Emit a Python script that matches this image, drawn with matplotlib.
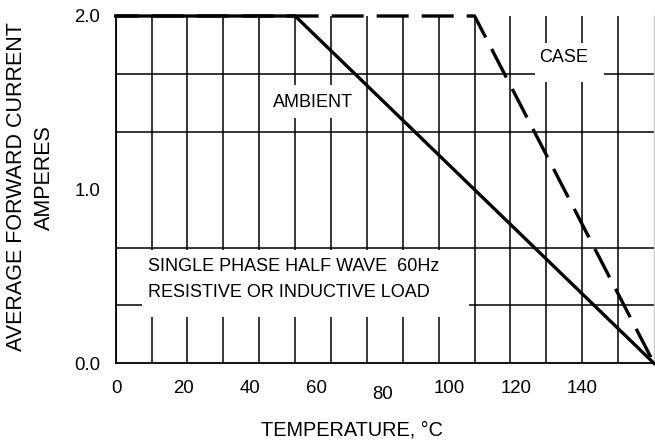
import matplotlib
matplotlib.use('Agg')
import matplotlib.pyplot as plt
import numpy as np
from matplotlib.patches import Rectangle

plt.rcParams['font.family'] = ['Liberation Sans', 'DejaVu Sans']

# ---- data ----
ambient_temp = [0, 50, 150]
ambient_current = [2.0, 2.0, 0.0]
case_temp = [0, 100, 150]
case_current = [2.0, 2.0, 0.0]
x_tick_values = [0, 20, 40, 60, 80, 100, 120, 140]
x_tick_labels = ['0', '20', '40', '60', '80', '100', '120', '140']
y_tick_values = [0.0, 1.0, 2.0]
y_tick_labels = ['0.0', '1.0', '2.0']

W, H = 655, 446
fig = plt.figure(figsize=(W / 100, H / 100), dpi=100)
ax = fig.add_axes([115.7 / W, 82.7 / H, (654 - 115.7) / W, (363.3 - 16) / H])
ax.set_xlim(0, 150)
ax.set_ylim(0, 2)

# grid via minor ticks
ax.set_xticks(np.arange(0, 141, 10), minor=True)
ax.set_yticks(np.arange(0, 7) / 3, minor=True)
ax.grid(which='minor', color='black', lw=1.1, zorder=0.5)
ax.grid(which='major', visible=False)
ax.set_axisbelow(True)

ax.set_xticks([])
ax.set_yticks(y_tick_values)
ax.set_yticklabels(y_tick_labels, fontsize=13.4)
ax.tick_params(which='both', length=0)
ax.tick_params(axis='y', pad=11.3)

for s in ['left', 'bottom']:
    ax.spines[s].set_color('black')
    ax.spines[s].set_linewidth(1.3)
ax.spines['top'].set_visible(False)
ax.spines['right'].set_color('#c8c8c8')
ax.spines['right'].set_linewidth(1.0)

# x tick labels (slightly compressed placement like the reference)
for v, lab in zip(x_tick_values, x_tick_labels):
    off = 22.8 if lab == '80' else 17.8
    ax.annotate(lab, xy=(0.3 + v * 0.927, 0), xycoords=('data', 'axes fraction'),
                xytext=(0, -off), textcoords='offset points',
                ha='center', va='center', fontsize=13.4)

# white label boxes covering the grid
def wbox(x0, x1, y0, y1):
    ax.add_patch(Rectangle((x0, y0), x1 - x0, y1 - y0, facecolor='white',
                           edgecolor='none', zorder=1))

wbox(42.3, 67.9, 1.41, 1.60)
wbox(116.8, 136.2, 1.62, 1.845)
wbox(7.3, 98.4, 0.267, 0.653)

# curves
ax.plot(case_temp, case_current, color='black', lw=2.4,
        linestyle=(2.7, (9.6, 3.9)), zorder=3, clip_on=False,
        solid_capstyle='butt', dash_capstyle='butt')
ax.plot(ambient_temp, ambient_current, color='black', lw=2.4, zorder=4,
        clip_on=False, solid_joinstyle='miter')

# annotations
ax.text(55, 1.50, 'AMBIENT', ha='center', va='center', fontsize=13, zorder=5)
ax.text(124.9, 1.76, 'CASE', ha='center', va='center', fontsize=13, zorder=5)
ax.text(9.0, 0.555, 'SINGLE PHASE HALF WAVE  60Hz', ha='left', va='center',
        fontsize=13, zorder=5)
ax.text(9.0, 0.405, 'RESISTIVE OR INDUCTIVE LOAD', ha='left', va='center',
        fontsize=13, zorder=5)

# axis titles
fig.text(351.7 / W, 15.5 / H, 'TEMPERATURE, °C', ha='center', va='center',
         fontsize=14.3)
fig.text(16.7 / W, (H - 186.7) / H, 'AVERAGE FORWARD CURRENT', rotation=90,
         ha='center', va='center', fontsize=15.5)
fig.text(44.5 / W, (H - 178) / H, 'AMPERES', rotation=90,
         ha='center', va='center', fontsize=15.5)

fig.savefig('out.png', dpi=100)
